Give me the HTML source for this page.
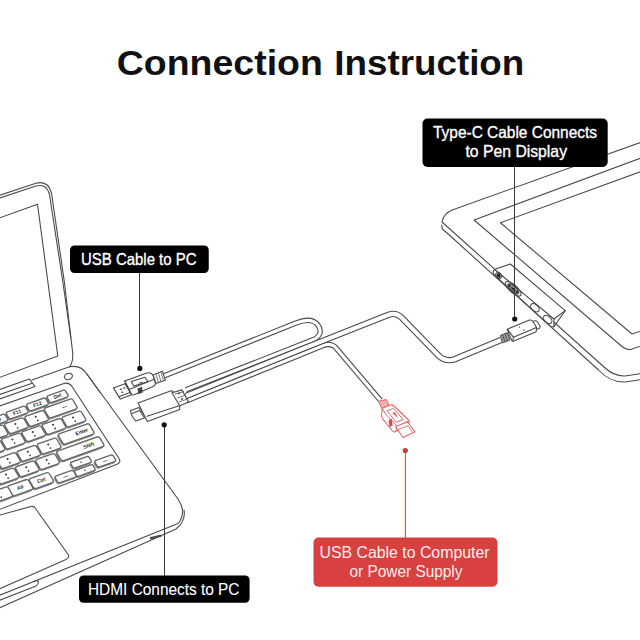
<!DOCTYPE html>
<html><head><meta charset="utf-8"><style>
html,body{margin:0;padding:0;background:#fff;width:640px;height:640px;overflow:hidden}
svg{display:block}
.l{fill:none;stroke:#4a4a4a;stroke-width:1.1;stroke-linejoin:round;stroke-linecap:round}
.k{fill:#fff;stroke:#686868;stroke-width:1.4;stroke-linejoin:round}
.t{font-family:"Liberation Sans",sans-serif}
</style></head><body>
<svg width="640" height="640" viewBox="0 0 640 640">
<rect width="640" height="640" fill="#fff"/>
<g>
<path d="M-2,195.8 L36,183.2 Q48,180 51.5,193 L64.5,283 L72.6,352 Q73.5,362 69.5,367" class="l"/>
<path d="M-2,198.6 L36,186 Q46.5,183.2 49.5,194.5 L63,283 L70.8,338" class="l"/>
<path d="M-2,218.5 L37.5,204.3 L57.8,356 L-2,378" class="l"/>
<path d="M-2,390 L29.4,379 L35,386.5 L-2,399.5 M-2,395 L32.2,383.2" class="l"/>
<path d="M31.9,380 L69.5,366.8 Q80.5,364.5 86.5,373.5 L100.5,393" class="l"/>
<path d="M86.5,373.5 L178,499 Q186,511 180,521 L178,523.5 L-2,596" class="l"/>
<path d="M184,510 Q186,521 176,529 L-2,608.5" class="l"/>
<path d="M150,538.4 L161.2,535.6" stroke="#4a4a4a" stroke-width="2.2" fill="none"/>
<ellipse cx="68.4" cy="376.4" rx="4.1" ry="3.1" transform="rotate(-18 68.4 376.4)" class="l"/>
<path d="M-2,406.5 L64,383.5 Q69,382 72,386.5 L119,458.5 Q121.5,462.5 116.5,464.5 L-2,510" class="l"/>
<path d="M-2,515.5 L31,506.5 Q34,505.8 35.5,508.5 L68.5,555 Q69.5,558 66,559.5 L-2,589.5" class="l"/>
<path d="M33.5,581.5 Q37.5,580 38.5,581.5 Q38.5,584.5 36,586 L-2,601" class="l"/>
<g><path d="M47.54,396.86 L62.33,391.6 Q64.17,390.94 65.15,392.63 L67.11,396 Q68.09,397.68 66.26,398.34 L51.47,403.6 Q49.63,404.26 48.65,402.57 L46.69,399.2 Q45.71,397.52 47.54,396.86 Z" fill="#9a9a9a" stroke="#8a8a8a" stroke-width="1"/><path d="M48.24,395.56 L63.03,390.3 Q64.87,389.64 65.85,391.33 L67.81,394.7 Q68.79,396.38 66.96,397.04 L52.17,402.3 Q50.33,402.96 49.35,401.27 L47.39,397.9 Q46.41,396.22 48.24,395.56 Z" class="k"/>
<text x="57.6" y="397.7" font-family="Liberation Sans" font-weight="bold" font-size="5" fill="#222" text-anchor="middle" transform="rotate(-19.6 57.6 396.3)">Del</text>
<path d="M27.07,405.1 L42.61,399.56 Q44.45,398.91 45.43,400.59 L47.39,403.96 Q48.37,405.65 46.53,406.3 L30.99,411.84 Q29.15,412.49 28.17,410.81 L26.21,407.44 Q25.23,405.75 27.07,405.1 Z" fill="#9a9a9a" stroke="#8a8a8a" stroke-width="1"/><path d="M27.77,403.8 L43.31,398.26 Q45.15,397.61 46.13,399.29 L48.09,402.66 Q49.07,404.35 47.23,405 L31.69,410.54 Q29.85,411.19 28.87,409.51 L26.91,406.14 Q25.93,404.45 27.77,403.8 Z" class="k"/>
<text x="37.5" y="405.8" font-family="Liberation Sans" font-weight="bold" font-size="5" fill="#222" text-anchor="middle" transform="rotate(-19.6 37.5 404.4)">F12</text>
<path d="M6.77,413.2 L22.31,407.66 Q24.15,407.01 25.13,408.69 L27.09,412.06 Q28.07,413.75 26.23,414.4 L10.69,419.94 Q8.85,420.59 7.87,418.91 L5.91,415.54 Q4.93,413.85 6.77,413.2 Z" fill="#9a9a9a" stroke="#8a8a8a" stroke-width="1"/><path d="M7.47,411.9 L23.01,406.36 Q24.85,405.71 25.83,407.39 L27.79,410.76 Q28.77,412.45 26.93,413.1 L11.39,418.64 Q9.55,419.29 8.57,417.61 L6.61,414.24 Q5.63,412.55 7.47,411.9 Z" class="k"/>
<text x="17.2" y="413.9" font-family="Liberation Sans" font-weight="bold" font-size="5" fill="#222" text-anchor="middle" transform="rotate(-19.6 17.2 412.5)">F11</text>
<path d="M-13.53,421.3 L2.01,415.76 Q3.85,415.11 4.83,416.79 L6.79,420.16 Q7.77,421.85 5.93,422.5 L-9.61,428.04 Q-11.45,428.69 -12.43,427.01 L-14.39,423.64 Q-15.37,421.95 -13.53,421.3 Z" fill="#9a9a9a" stroke="#8a8a8a" stroke-width="1"/><path d="M-12.83,420 L2.71,414.46 Q4.55,413.81 5.53,415.49 L7.49,418.86 Q8.47,420.55 6.63,421.2 L-8.91,426.74 Q-10.75,427.39 -11.73,425.71 L-13.69,422.34 Q-14.67,420.65 -12.83,420 Z" class="k"/>
<text x="-3.1" y="422" font-family="Liberation Sans" font-weight="bold" font-size="5" fill="#222" text-anchor="middle" transform="rotate(-19.6 -3.1 420.6)">F10</text>
<path d="M44.95,409.06 L69.26,400.4 Q71.33,399.67 72.44,401.57 L76.01,407.7 Q77.12,409.6 75.05,410.34 L50.74,419 Q48.67,419.73 47.56,417.83 L43.99,411.7 Q42.88,409.8 44.95,409.06 Z" fill="#9a9a9a" stroke="#8a8a8a" stroke-width="1"/><path d="M45.65,407.76 L69.96,399.1 Q72.03,398.37 73.14,400.27 L76.71,406.4 Q77.82,408.3 75.75,409.04 L51.44,417.7 Q49.37,418.43 48.26,416.53 L44.69,410.4 Q43.58,408.5 45.65,407.76 Z" class="k"/>
<text x="64.47" y="408.46" font-family="Liberation Sans" font-weight="bold" font-size="5" fill="#222" text-anchor="middle" transform="rotate(-19.6 64.47 407.06)">&#8212;</text>
<path d="M25.57,417.41 L40.64,412.05 Q42.72,411.31 43.82,413.21 L47.4,419.35 Q48.5,421.25 46.43,421.99 L31.36,427.35 Q29.28,428.09 28.18,426.19 L24.6,420.05 Q23.5,418.15 25.57,417.41 Z" fill="#9a9a9a" stroke="#8a8a8a" stroke-width="1"/><path d="M26.27,416.11 L41.34,410.75 Q43.42,410.01 44.52,411.91 L48.1,418.05 Q49.2,419.95 47.13,420.69 L32.06,426.05 Q29.98,426.79 28.88,424.89 L25.3,418.75 Q24.2,416.85 26.27,416.11 Z" class="k"/>
<circle cx="35.7" cy="416.8" r="1.0" fill="#333"/><circle cx="37.9" cy="420.5" r="0.9" fill="#444"/>
<path d="M5.27,424.71 L20.34,419.35 Q22.42,418.61 23.52,420.51 L27.1,426.65 Q28.2,428.55 26.13,429.29 L11.06,434.65 Q8.98,435.39 7.88,433.49 L4.3,427.35 Q3.2,425.45 5.27,424.71 Z" fill="#9a9a9a" stroke="#8a8a8a" stroke-width="1"/><path d="M5.97,423.41 L21.04,418.05 Q23.12,417.31 24.22,419.21 L27.8,425.35 Q28.9,427.25 26.83,427.99 L11.76,433.35 Q9.68,434.09 8.58,432.19 L5,426.05 Q3.9,424.15 5.97,423.41 Z" class="k"/>
<circle cx="15.4" cy="424.1" r="1.0" fill="#333"/><circle cx="17.6" cy="427.8" r="0.9" fill="#444"/>
<path d="M-15.03,432.01 L0.04,426.65 Q2.12,425.91 3.22,427.81 L6.8,433.95 Q7.9,435.85 5.83,436.59 L-9.24,441.95 Q-11.32,442.69 -12.42,440.79 L-16,434.65 Q-17.1,432.75 -15.03,432.01 Z" fill="#9a9a9a" stroke="#8a8a8a" stroke-width="1"/><path d="M-14.33,430.71 L0.74,425.35 Q2.82,424.61 3.92,426.51 L7.5,432.65 Q8.6,434.55 6.53,435.29 L-8.54,440.65 Q-10.62,441.39 -11.72,439.49 L-15.3,433.35 Q-16.4,431.45 -14.33,430.71 Z" class="k"/>
<circle cx="-4.9" cy="431.4" r="1.0" fill="#333"/><circle cx="-2.7" cy="435.1" r="0.9" fill="#444"/>
<path d="M62.87,418.01 L77.94,412.65 Q80.02,411.91 81.12,413.81 L84.7,419.95 Q85.8,421.85 83.73,422.59 L68.66,427.95 Q66.58,428.69 65.48,426.79 L61.9,420.65 Q60.8,418.75 62.87,418.01 Z" fill="#9a9a9a" stroke="#8a8a8a" stroke-width="1"/><path d="M63.57,416.71 L78.64,411.35 Q80.72,410.61 81.82,412.51 L85.4,418.65 Q86.5,420.55 84.43,421.29 L69.36,426.65 Q67.28,427.39 66.18,425.49 L62.6,419.35 Q61.5,417.45 63.57,416.71 Z" class="k"/>
<circle cx="73" cy="417.4" r="1.0" fill="#333"/><circle cx="75.2" cy="421.1" r="0.9" fill="#444"/>
<path d="M42.87,425.41 L57.94,420.05 Q60.02,419.31 61.12,421.21 L64.7,427.35 Q65.8,429.25 63.73,429.99 L48.66,435.35 Q46.58,436.09 45.48,434.19 L41.9,428.05 Q40.8,426.15 42.87,425.41 Z" fill="#9a9a9a" stroke="#8a8a8a" stroke-width="1"/><path d="M43.57,424.11 L58.64,418.75 Q60.72,418.01 61.82,419.91 L65.4,426.05 Q66.5,427.95 64.43,428.69 L49.36,434.05 Q47.28,434.79 46.18,432.89 L42.6,426.75 Q41.5,424.85 43.57,424.11 Z" class="k"/>
<circle cx="53" cy="424.8" r="1.0" fill="#333"/><circle cx="55.2" cy="428.5" r="0.9" fill="#444"/>
<path d="M22.57,432.71 L37.64,427.35 Q39.72,426.61 40.82,428.51 L44.4,434.65 Q45.5,436.55 43.43,437.29 L28.36,442.65 Q26.28,443.39 25.18,441.49 L21.6,435.35 Q20.5,433.45 22.57,432.71 Z" fill="#9a9a9a" stroke="#8a8a8a" stroke-width="1"/><path d="M23.27,431.41 L38.34,426.05 Q40.42,425.31 41.52,427.21 L45.1,433.35 Q46.2,435.25 44.13,435.99 L29.06,441.35 Q26.98,442.09 25.88,440.19 L22.3,434.05 Q21.2,432.15 23.27,431.41 Z" class="k"/>
<circle cx="32.7" cy="432.1" r="1.0" fill="#333"/><circle cx="34.9" cy="435.8" r="0.9" fill="#444"/>
<path d="M2.27,440.01 L17.34,434.65 Q19.42,433.91 20.52,435.81 L24.1,441.95 Q25.2,443.85 23.13,444.59 L8.06,449.95 Q5.98,450.69 4.88,448.79 L1.3,442.65 Q0.2,440.75 2.27,440.01 Z" fill="#9a9a9a" stroke="#8a8a8a" stroke-width="1"/><path d="M2.97,438.71 L18.04,433.35 Q20.12,432.61 21.22,434.51 L24.8,440.65 Q25.9,442.55 23.83,443.29 L8.76,448.65 Q6.68,449.39 5.58,447.49 L2,441.35 Q0.9,439.45 2.97,438.71 Z" class="k"/>
<circle cx="12.4" cy="439.4" r="1.0" fill="#333"/><circle cx="14.6" cy="443.1" r="0.9" fill="#444"/>
<path d="M-18.03,447.31 L-2.96,441.95 Q-0.88,441.21 0.22,443.11 L3.8,449.25 Q4.9,451.15 2.83,451.89 L-12.24,457.25 Q-14.32,457.99 -15.42,456.09 L-19,449.95 Q-20.1,448.05 -18.03,447.31 Z" fill="#9a9a9a" stroke="#8a8a8a" stroke-width="1"/><path d="M-17.33,446.01 L-2.26,440.65 Q-0.18,439.91 0.92,441.81 L4.5,447.95 Q5.6,449.85 3.53,450.59 L-11.54,455.95 Q-13.62,456.69 -14.72,454.79 L-18.3,448.65 Q-19.4,446.75 -17.33,446.01 Z" class="k"/>
<circle cx="-7.9" cy="446.7" r="1.0" fill="#333"/><circle cx="-5.7" cy="450.4" r="0.9" fill="#444"/>
<path d="M58.99,434.97 L86.02,425.34 Q88.1,424.61 89.2,426.51 L92.98,432.99 Q94.09,434.89 92.01,435.63 L64.98,445.26 Q62.9,445.99 61.8,444.09 L58.02,437.61 Q56.91,435.71 58.99,434.97 Z" fill="#9a9a9a" stroke="#8a8a8a" stroke-width="1"/><path d="M59.69,433.67 L86.72,424.04 Q88.8,423.31 89.9,425.21 L93.68,431.69 Q94.79,433.59 92.71,434.33 L65.68,443.96 Q63.6,444.69 62.5,442.79 L58.72,436.31 Q57.61,434.41 59.69,433.67 Z" class="k"/>
<text x="81.85" y="433.39" font-family="Liberation Sans" font-weight="bold" font-size="5" fill="#222" text-anchor="middle" transform="rotate(-19.6 81.85 431.99)">Enter</text>
<path d="M38.07,445.01 L53.14,439.65 Q55.22,438.91 56.32,440.81 L59.9,446.95 Q61,448.85 58.93,449.59 L43.86,454.95 Q41.78,455.69 40.68,453.79 L37.1,447.65 Q36,445.75 38.07,445.01 Z" fill="#9a9a9a" stroke="#8a8a8a" stroke-width="1"/><path d="M38.77,443.71 L53.84,438.35 Q55.92,437.61 57.02,439.51 L60.6,445.65 Q61.7,447.55 59.63,448.29 L44.56,453.65 Q42.48,454.39 41.38,452.49 L37.8,446.35 Q36.7,444.45 38.77,443.71 Z" class="k"/>
<circle cx="48.2" cy="444.4" r="1.0" fill="#333"/><circle cx="50.4" cy="448.1" r="0.9" fill="#444"/>
<path d="M17.77,452.31 L32.84,446.95 Q34.92,446.21 36.02,448.11 L39.6,454.25 Q40.7,456.15 38.63,456.89 L23.56,462.25 Q21.48,462.99 20.38,461.09 L16.8,454.95 Q15.7,453.05 17.77,452.31 Z" fill="#9a9a9a" stroke="#8a8a8a" stroke-width="1"/><path d="M18.47,451.01 L33.54,445.65 Q35.62,444.91 36.72,446.81 L40.3,452.95 Q41.4,454.85 39.33,455.59 L24.26,460.95 Q22.18,461.69 21.08,459.79 L17.5,453.65 Q16.4,451.75 18.47,451.01 Z" class="k"/>
<circle cx="27.9" cy="451.7" r="1.0" fill="#333"/><circle cx="30.1" cy="455.4" r="0.9" fill="#444"/>
<path d="M-2.53,459.61 L12.54,454.25 Q14.62,453.51 15.72,455.41 L19.3,461.55 Q20.4,463.45 18.33,464.19 L3.26,469.55 Q1.18,470.29 0.08,468.39 L-3.5,462.25 Q-4.6,460.35 -2.53,459.61 Z" fill="#9a9a9a" stroke="#8a8a8a" stroke-width="1"/><path d="M-1.83,458.31 L13.24,452.95 Q15.32,452.21 16.42,454.11 L20,460.25 Q21.1,462.15 19.03,462.89 L3.96,468.25 Q1.88,468.99 0.78,467.09 L-2.8,460.95 Q-3.9,459.05 -1.83,458.31 Z" class="k"/>
<circle cx="7.6" cy="459" r="1.0" fill="#333"/><circle cx="9.8" cy="462.7" r="0.9" fill="#444"/>
<path d="M-22.83,466.91 L-7.76,461.55 Q-5.68,460.81 -4.58,462.71 L-1,468.85 Q0.1,470.75 -1.97,471.49 L-17.04,476.85 Q-19.12,477.59 -20.22,475.69 L-23.8,469.55 Q-24.9,467.65 -22.83,466.91 Z" fill="#9a9a9a" stroke="#8a8a8a" stroke-width="1"/><path d="M-22.13,465.61 L-7.06,460.25 Q-4.98,459.51 -3.88,461.41 L-0.3,467.55 Q0.8,469.45 -1.27,470.19 L-16.34,475.55 Q-18.42,476.29 -19.52,474.39 L-23.1,468.25 Q-24.2,466.35 -22.13,465.61 Z" class="k"/>
<circle cx="-12.7" cy="466.3" r="1.0" fill="#333"/><circle cx="-10.5" cy="470" r="0.9" fill="#444"/>
<path d="M57.35,452.13 L96.16,438.31 Q98.24,437.57 99.34,439.47 L102.82,445.43 Q103.92,447.33 101.85,448.07 L63.04,461.89 Q60.96,462.63 59.86,460.73 L56.38,454.77 Q55.28,452.87 57.35,452.13 Z" fill="#9a9a9a" stroke="#8a8a8a" stroke-width="1"/><path d="M58.05,450.83 L96.86,437.01 Q98.94,436.27 100.04,438.17 L103.52,444.13 Q104.62,446.03 102.55,446.77 L63.74,460.59 Q61.66,461.33 60.56,459.43 L57.08,453.47 Q55.98,451.57 58.05,450.83 Z" class="k"/>
<text x="88.78" y="447.18" font-family="Liberation Sans" font-weight="bold" font-size="5" fill="#222" text-anchor="middle" transform="rotate(-19.6 88.78 445.78)">Shift</text>
<path d="M36.47,460.51 L51.54,455.15 Q53.62,454.41 54.72,456.31 L58.3,462.45 Q59.4,464.35 57.33,465.09 L42.26,470.45 Q40.18,471.19 39.08,469.29 L35.5,463.15 Q34.4,461.25 36.47,460.51 Z" fill="#9a9a9a" stroke="#8a8a8a" stroke-width="1"/><path d="M37.17,459.21 L52.24,453.85 Q54.32,453.11 55.42,455.01 L59,461.15 Q60.1,463.05 58.03,463.79 L42.96,469.15 Q40.88,469.89 39.78,467.99 L36.2,461.85 Q35.1,459.95 37.17,459.21 Z" class="k"/>
<circle cx="46.6" cy="459.9" r="1.0" fill="#333"/><circle cx="48.8" cy="463.6" r="0.9" fill="#444"/>
<path d="M16.17,467.81 L31.24,462.45 Q33.32,461.71 34.42,463.61 L38,469.75 Q39.1,471.65 37.03,472.39 L21.96,477.75 Q19.88,478.49 18.78,476.59 L15.2,470.45 Q14.1,468.55 16.17,467.81 Z" fill="#9a9a9a" stroke="#8a8a8a" stroke-width="1"/><path d="M16.87,466.51 L31.94,461.15 Q34.02,460.41 35.12,462.31 L38.7,468.45 Q39.8,470.35 37.73,471.09 L22.66,476.45 Q20.58,477.19 19.48,475.29 L15.9,469.15 Q14.8,467.25 16.87,466.51 Z" class="k"/>
<circle cx="26.3" cy="467.2" r="1.0" fill="#333"/><circle cx="28.5" cy="470.9" r="0.9" fill="#444"/>
<path d="M-4.13,475.11 L10.94,469.75 Q13.02,469.01 14.12,470.91 L17.7,477.05 Q18.8,478.95 16.73,479.69 L1.66,485.05 Q-0.42,485.79 -1.52,483.89 L-5.1,477.75 Q-6.2,475.85 -4.13,475.11 Z" fill="#9a9a9a" stroke="#8a8a8a" stroke-width="1"/><path d="M-3.43,473.81 L11.64,468.45 Q13.72,467.71 14.82,469.61 L18.4,475.75 Q19.5,477.65 17.43,478.39 L2.36,483.75 Q0.28,484.49 -0.82,482.59 L-4.4,476.45 Q-5.5,474.55 -3.43,473.81 Z" class="k"/>
<circle cx="6" cy="474.5" r="1.0" fill="#333"/><circle cx="8.2" cy="478.2" r="0.9" fill="#444"/>
<path d="M95.15,461.72 L110.08,456.4 Q111.84,455.77 112.79,457.39 L114.68,460.63 Q115.62,462.25 113.85,462.88 L98.92,468.2 Q97.16,468.83 96.21,467.21 L94.32,463.97 Q93.38,462.35 95.15,461.72 Z" fill="#9a9a9a" stroke="#8a8a8a" stroke-width="1"/><path d="M95.85,460.42 L110.78,455.1 Q112.54,454.47 113.49,456.09 L115.38,459.33 Q116.32,460.95 114.55,461.58 L99.62,466.9 Q97.86,467.53 96.91,465.91 L95.02,462.67 Q94.08,461.05 95.85,460.42 Z" class="k"/>
<text x="105.2" y="462.4" font-family="Liberation Sans" font-weight="bold" font-size="5" fill="#222" text-anchor="middle" transform="rotate(-19.6 105.2 461)">&#8212;</text>
<path d="M70.96,463.33 L86.17,457.91 Q87.8,457.33 88.66,458.82 L90.4,461.8 Q91.27,463.29 89.64,463.87 L74.43,469.29 Q72.8,469.87 71.94,468.38 L70.2,465.4 Q69.33,463.91 70.96,463.33 Z" fill="#9a9a9a" stroke="#8a8a8a" stroke-width="1"/><path d="M71.66,462.03 L86.87,456.61 Q88.5,456.03 89.36,457.52 L91.1,460.5 Q91.97,461.99 90.34,462.57 L75.13,467.99 Q73.5,468.57 72.64,467.08 L70.9,464.1 Q70.03,462.61 71.66,462.03 Z" class="k"/>
<text x="81" y="463.7" font-family="Liberation Sans" font-weight="bold" font-size="5" fill="#222" text-anchor="middle" transform="rotate(-19.6 81 462.3)">&#8226;</text>
<path d="M74.76,471.53 L89.97,466.11 Q91.6,465.53 92.46,467.02 L94.2,470 Q95.07,471.49 93.44,472.07 L78.23,477.49 Q76.6,478.07 75.74,476.58 L74,473.6 Q73.13,472.11 74.76,471.53 Z" fill="#9a9a9a" stroke="#8a8a8a" stroke-width="1"/><path d="M75.46,470.23 L90.67,464.81 Q92.3,464.23 93.16,465.72 L94.9,468.7 Q95.77,470.19 94.14,470.77 L78.93,476.19 Q77.3,476.77 76.44,475.28 L74.7,472.3 Q73.83,470.81 75.46,470.23 Z" class="k"/>
<text x="84.8" y="471.9" font-family="Liberation Sans" font-weight="bold" font-size="5" fill="#222" text-anchor="middle" transform="rotate(-19.6 84.8 470.5)">&#8226;</text>
<path d="M55.54,477.21 L70.38,471.93 Q72.19,471.29 73.16,472.95 L75.1,476.28 Q76.07,477.94 74.26,478.59 L59.42,483.87 Q57.61,484.51 56.64,482.85 L54.7,479.52 Q53.73,477.86 55.54,477.21 Z" fill="#9a9a9a" stroke="#8a8a8a" stroke-width="1"/><path d="M56.24,475.91 L71.08,470.63 Q72.89,469.99 73.86,471.65 L75.8,474.98 Q76.77,476.64 74.96,477.29 L60.12,482.57 Q58.31,483.21 57.34,481.55 L55.4,478.22 Q54.43,476.56 56.24,475.91 Z" class="k"/>
<text x="65.6" y="478" font-family="Liberation Sans" font-weight="bold" font-size="5" fill="#222" text-anchor="middle" transform="rotate(-19.6 65.6 476.6)">&#8212;</text>
<path d="M29.94,479.73 L45.67,474.13 Q47.74,473.39 48.85,475.29 L52.43,481.43 Q53.53,483.33 51.46,484.07 L35.73,489.67 Q33.66,490.41 32.55,488.51 L28.97,482.37 Q27.87,480.47 29.94,479.73 Z" fill="#9a9a9a" stroke="#8a8a8a" stroke-width="1"/><path d="M30.64,478.43 L46.37,472.83 Q48.44,472.09 49.55,473.99 L53.13,480.13 Q54.23,482.03 52.16,482.77 L36.43,488.37 Q34.36,489.11 33.25,487.21 L29.67,481.07 Q28.57,479.17 30.64,478.43 Z" class="k"/>
<text x="41.4" y="482" font-family="Liberation Sans" font-weight="bold" font-size="5" fill="#222" text-anchor="middle" transform="rotate(-19.6 41.4 480.6)">Ctrl</text>
<path d="M8.37,487 L25.04,481.06 Q27.12,480.32 28.22,482.23 L31.8,488.36 Q32.9,490.26 30.83,491 L14.16,496.94 Q12.08,497.68 10.98,495.77 L7.4,489.64 Q6.3,487.74 8.37,487 Z" fill="#9a9a9a" stroke="#8a8a8a" stroke-width="1"/><path d="M9.07,485.7 L25.74,479.76 Q27.82,479.02 28.92,480.93 L32.5,487.06 Q33.6,488.96 31.53,489.7 L14.86,495.64 Q12.78,496.38 11.68,494.47 L8.1,488.34 Q7,486.44 9.07,485.7 Z" class="k"/>
<text x="20.3" y="489.1" font-family="Liberation Sans" font-weight="bold" font-size="5" fill="#222" text-anchor="middle" transform="rotate(-19.6 20.3 487.7)">Alt</text>
<path d="M-11.93,494.3 L4.74,488.36 Q6.82,487.62 7.92,489.53 L11.5,495.66 Q12.6,497.56 10.53,498.3 L-6.14,504.24 Q-8.22,504.98 -9.32,503.07 L-12.9,496.94 Q-14,495.04 -11.93,494.3 Z" fill="#9a9a9a" stroke="#8a8a8a" stroke-width="1"/><path d="M-11.23,493 L5.44,487.06 Q7.52,486.32 8.62,488.23 L12.2,494.36 Q13.3,496.26 11.23,497 L-5.44,502.94 Q-7.52,503.68 -8.62,501.77 L-12.2,495.64 Q-13.3,493.74 -11.23,493 Z" class="k"/>
<circle cx="-1" cy="493.4" r="1.0" fill="#333"/><circle cx="1.2" cy="497.1" r="0.9" fill="#444"/></g>
<path d="M160,377.5 L296,323 Q311,317 317.5,324.5 Q321,329 320,333 Q318.5,337.5 313,339.8 L186,389.8" stroke="#4a4a4a" stroke-width="5.4" fill="none" stroke-linejoin="round" stroke-linecap="butt"/><path d="M160,377.5 L296,323 Q311,317 317.5,324.5 Q321,329 320,333 Q318.5,337.5 313,339.8 L186,389.8" stroke="#fff" stroke-width="3.2" fill="none" stroke-linejoin="round" stroke-linecap="butt"/>
<path d="M186,401.1 L300,354.9 L322,346 Q330,342.5 335,346.8 L380.6,400.6" stroke="#4a4a4a" stroke-width="5.4" fill="none" stroke-linejoin="round" stroke-linecap="butt"/><path d="M186,401.1 L300,354.9 L322,346 Q330,342.5 335,346.8 L380.6,400.6" stroke="#fff" stroke-width="3.2" fill="none" stroke-linejoin="round" stroke-linecap="butt"/>
<path d="M186,396 L300,349.8 L388,315 Q396,312 401.5,317.5 L438.5,355.5 Q445,362 454,359.5 L501,340" stroke="#4a4a4a" stroke-width="6.3" fill="none" stroke-linejoin="round" stroke-linecap="butt"/><path d="M186,396 L300,349.8 L388,315 Q396,312 401.5,317.5 L438.5,355.5 Q445,362 454,359.5 L501,340" stroke="#fff" stroke-width="4.1" fill="none" stroke-linejoin="round" stroke-linecap="butt"/>
<path d="M645,140.8 L452.25,210 Q443.5,213.5 442,222 L604,367 Q614,376.5 625,376 L645,373" class="l"/>
<path d="M441.8,225 Q441.5,229.5 445.4,231.5 L598,369.5 Q610,382.5 625,382 L645,379" class="l"/>
<path d="M645,156.5 L474.1,220 L622,346.5 Q627,351 632,349 L645,344.5" class="l"/>
<path d="M645,170 L500.4,222.75 L632,334 L645,329.5" class="l"/>
<path d="M497,268.4 L510.3,264 L565.2,310.6 L553.9,319 L553.9,326.7 L551.1,326.7 L494.1,274.7 Q492,271.5 494.7,269.5 Z" fill="#fff" stroke="#4a4a4a" stroke-width="1.1" stroke-linejoin="round"/>
<path d="M494.7,269.5 L553.9,319 M565.2,310.6 L553.9,326.7" class="l"/>
<ellipse cx="498.6" cy="275.6" rx="2.6" ry="3.4" transform="rotate(-30 498.6 275.6)" class="l"/><ellipse cx="498.6" cy="275.6" rx="1.9" ry="2.4" transform="rotate(-30 498.6 275.6)" fill="#2a2a2a"/>
<ellipse cx="513.3" cy="288.8" rx="10" ry="3.8" transform="rotate(42 513.3 288.8)" class="l"/>
<ellipse cx="513.3" cy="288.8" rx="7" ry="2.2" transform="rotate(42 513.3 288.8)" fill="none" stroke="#333" stroke-width="1"/><circle cx="509.6" cy="285.6" r="1.6" fill="#333"/><circle cx="516.8" cy="292" r="1.4" fill="#333"/><path d="M511,287 L515.5,291" stroke="#222" stroke-width="2.2"/>
<ellipse cx="534.9" cy="307.7" rx="5" ry="3.2" transform="rotate(42 534.9 307.7)" class="l"/>
<ellipse cx="547.6" cy="319.5" rx="5" ry="3.2" transform="rotate(42 547.6 319.5)" class="l"/>
<path d="M113.4,387.9 L125,383.8 L131.6,394.75 L120.3,399.1 Z" fill="#fff" stroke="#4a4a4a" stroke-width="1.1" stroke-linejoin="round"/>
<path d="M119.4,396.6 L130.6,392.25 M125,383.8 L130.6,392.25" class="l"/>
<path d="M119.5,389 l1.8,-0.7 l0.8,1.2 l-1.8,0.7 z M123,387.8 l1.8,-0.7 l0.8,1.2 l-1.8,0.7 z M121,392 l1.8,-0.7 l0.8,1.2 l-1.8,0.7 z" fill="#555"/>
<path d="M124.7,381 L146,373.2 Q151,371.5 153.2,375.5 L155.4,383.2 Q155.8,385.2 153.5,386.2 L134,394.8 Q132,395.6 131,393.8 Z" fill="#fff" stroke="#4a4a4a" stroke-width="1.1" stroke-linejoin="round"/>
<path d="M124.7,381 L129,389.5 L131.2,394 M129,389.5 L154.8,379" class="l"/>
<path d="M131.25,381.6 L145,377.25 L148.1,381.6 L133.75,386 Z" class="l"/>
<path d="M137,383.5 l6,-2.2 l-1,1.5 z" fill="#555"/>
<path d="M137.5,388.5 L142,386.8 L142.8,392.6 L138.3,394.3 Z" fill="#444"/>
<path d="M153.1,375 L162.5,371.25 L165.3,380.15 L155.9,383.4 Z" fill="#fff" stroke="#4a4a4a" stroke-width="1.1" stroke-linejoin="round"/>
<path d="M156,374.3 L158.4,382.3 M158.5,373.3 L160.9,381.3 M161,372.3 L163.4,380.3" stroke="#666" stroke-width="0.9"/>
<path d="M130.5,410.7 L138.7,407.4 L146.3,417.3 L135.9,421.1 Q131,416 130.5,410.7 Z" fill="#fff" stroke="#4a4a4a" stroke-width="1.1" stroke-linejoin="round"/>
<path d="M132,413.5 L139.5,410.5 L144,417" class="l"/>
<path d="M138.1,403 L170.4,391 Q172.5,390.5 174,392.5 L179.7,404 L179.7,409.6 L147.4,421.6 Q145,417 138.1,403 Z" fill="#fff" stroke="#4a4a4a" stroke-width="1.1" stroke-linejoin="round"/>
<path d="M146.9,416.2 L179.2,405.8" class="l"/>
<path d="M172,392.7 L181.9,389.9 L188.5,402 L179.7,405.8 Z" fill="#fff" stroke="#4a4a4a" stroke-width="1.1" stroke-linejoin="round"/>
<path d="M175,394 L184,391.5 M177,398 L186,395 M179,402 L187.5,399" stroke="#555" stroke-width="0.8"/>
<circle cx="179" cy="393.5" r="1.1" fill="#555"/><circle cx="182" cy="399" r="1.1" fill="#555"/>
<path d="M529,323 L535,320.8 Q536.5,320.5 537.5,322 L540.1,326.3 Q540.5,328 539,328.5 L533.5,330.5 Z" fill="#fff" stroke="#4a4a4a" stroke-width="1.1" stroke-linejoin="round"/>
<path d="M507.3,329.2 L528.8,320.3 Q531.5,319.4 533,321.5 L536.5,327.6 L536.2,331.8 L513.2,341.2 Q511.8,341.6 511.5,340 Z" fill="#fff" stroke="#4a4a4a" stroke-width="1.1" stroke-linejoin="round"/>
<path d="M507.3,329.2 L513.4,337.2 L536.5,327.6 M513.4,337.2 L512.8,340.8" class="l"/>
<circle cx="519.5" cy="327" r="0.7" fill="#555"/><circle cx="523.8" cy="330" r="0.8" fill="#555"/>
<path d="M500.3,335.5 L507.3,332.6 L510,340 L502.6,343 Z" fill="#9a9a9a" stroke="#4a4a4a" stroke-width="0.9"/><path d="M502.5,334.6 L505,342 M505,333.6 L507.5,341" stroke="#444" stroke-width="0.8"/>
<path d="M378.6,401.25 L386.4,399.5 L389,405.2 L381.7,408.6 Z" fill="#f2b0b0" stroke="#df6b6b" stroke-width="1"/>
<path d="M382.3,408.3 L390.5,405 Q392.5,404.5 394,406 L409,420.5 Q410,422.5 408,423.5 L395.5,431.7 Q393.8,432.5 392.5,431 L382.5,418.6 Q381.5,417 381.6,415 Z" fill="#fff" stroke="#df6b6b" stroke-width="1.1" stroke-linejoin="round"/>
<path d="M382.3,408.3 L385.5,414 L397.5,426.5 L409,420.5 M397.5,426.5 L395.5,431.5" fill="none" stroke="#df6b6b" stroke-width="1"/>
<path d="M387,410.8 L393.4,408.4 L403.2,419.6 L396.2,422.3 Z" fill="none" stroke="#df6b6b" stroke-width="1"/>
<path d="M392,413 L395,412 L398,418 Z" fill="#df6b6b"/>
<path d="M388.6,420.3 L391.6,418.6 L392.6,425.6 L389.6,427.2 Z" fill="#d64a4a"/>
<path d="M395.5,426.6 L407.5,422 L415,431.7 L403,437.5 Z" fill="#fff" stroke="#df6b6b" stroke-width="1.1" stroke-linejoin="round"/>
<path d="M398,429.5 L408,425.8 L412.5,432" fill="none" stroke="#df6b6b" stroke-width="0.9"/>
</g>
<!-- title -->
<text class="t" x="116.8" y="75.4" font-size="35.5" font-weight="bold" fill="#111" textLength="206" lengthAdjust="spacingAndGlyphs">Connection</text><text class="t" x="334.3" y="75.4" font-size="35.5" font-weight="bold" fill="#111" textLength="190" lengthAdjust="spacingAndGlyphs">Instruction</text>
<!-- label USB to PC -->
<line x1="139.5" y1="272" x2="139.5" y2="368" stroke="#3a3a3a" stroke-width="1"/>
<circle cx="139.8" cy="368.4" r="2.6" fill="#111"/>
<rect x="70" y="245.5" width="138.75" height="27.5" rx="4.5" fill="#000"/>
<text class="t" x="81" y="264.5" font-size="16.5" fill="#fff" stroke="#fff" stroke-width="0.35" textLength="115.5" lengthAdjust="spacingAndGlyphs">USB Cable to PC</text>
<!-- label type-C -->
<line x1="514.5" y1="166" x2="514.5" y2="319" stroke="#3a3a3a" stroke-width="1"/>
<circle cx="514.7" cy="319" r="2.6" fill="#111"/>
<rect x="422.5" y="118.5" width="185.2" height="48.5" rx="5" fill="#000"/>
<text class="t" x="433" y="137.8" font-size="16.5" fill="#fff" stroke="#fff" stroke-width="0.35" textLength="164" lengthAdjust="spacingAndGlyphs">Type-C Cable Connects</text>
<text class="t" x="465.5" y="156.8" font-size="16.5" fill="#fff" stroke="#fff" stroke-width="0.35" textLength="101.5" lengthAdjust="spacingAndGlyphs">to Pen Display</text>
<!-- label HDMI -->
<line x1="164.5" y1="424.7" x2="164.5" y2="576" stroke="#3a3a3a" stroke-width="1"/>
<circle cx="164.2" cy="424.8" r="2.6" fill="#111"/>
<rect x="79" y="575.4" width="170.6" height="27.3" rx="4.5" fill="#000"/>
<text class="t" x="88" y="594.7" font-size="16.5" fill="#fff" stroke="#fff" stroke-width="0.1" textLength="151.5" lengthAdjust="spacingAndGlyphs">HDMI Connects to PC</text>
<!-- red label -->
<line x1="405.4" y1="450.5" x2="405.4" y2="538" stroke="#c6403f" stroke-width="1"/>
<circle cx="405.3" cy="450.5" r="2.6" fill="#c8393b"/>
<rect x="313.5" y="537.5" width="184" height="49.2" rx="5" fill="#d8413f"/>
<text class="t" x="319.5" y="557.8" font-size="16.5" fill="#fdeeee" textLength="170" lengthAdjust="spacingAndGlyphs">USB Cable to Computer</text>
<text class="t" x="349.5" y="576.5" font-size="16.5" fill="#fdeeee" textLength="113" lengthAdjust="spacingAndGlyphs">or Power Supply</text>
</svg>
</body></html>
